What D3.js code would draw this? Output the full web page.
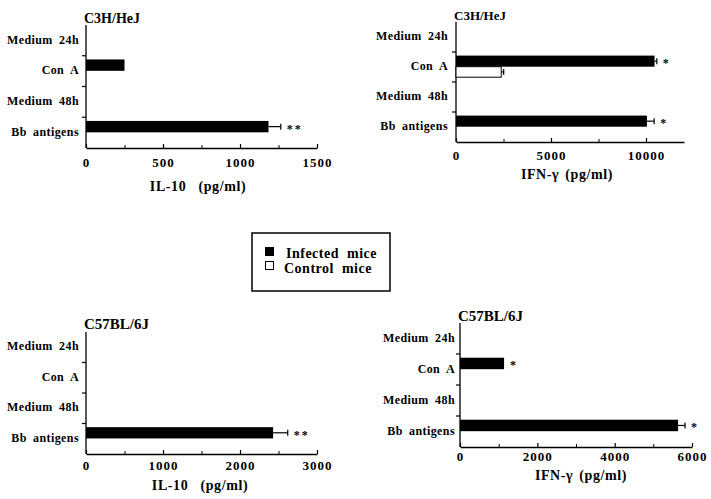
<!DOCTYPE html>
<html>
<head>
<meta charset="utf-8">
<script src="https://cdn.jsdelivr.net/npm/d3@7"></script>
<style>
  body { margin: 0; background: #fff; }
  text { font-family: "Liberation Serif", "Times New Roman", serif; font-weight: bold; fill: #000; }
</style>
</head>
<body>
<script>
// categories shared by all four panels
var categories = ["Medium 24h", "Con A", "Medium 48h", "Bb antigens"];

// C3H/HeJ IL-10
var il10C3H = [0, 250, 0, 1185];
var il10C3HErr = [0, 0, 0, 80];
var il10C3HStars = ["", "", "", "**"];

// C3H/HeJ IFN-gamma
var ifnC3H = [0, 10450, 0, 10050];
var ifnC3HErr = [0, 120, 0, 380];
var ifnC3HCtl = [0, 2380, 0, 0];
var ifnC3HCtlErr = [0, 130, 0, 0];
var ifnC3HStars = ["", "*", "", "*"];

// C57BL/6J IL-10
var il10B6 = [0, 0, 0, 2430];
var il10B6Err = [0, 0, 0, 190];
var il10B6Stars = ["", "", "", "**"];

// C57BL/6J IFN-gamma
var ifnB6 = [0, 1140, 0, 5640];
var ifnB6Err = [0, 0, 0, 180];
var ifnB6Stars = ["", "*", "", "*"];

var ticksIL10C3H = [0, 500, 1000, 1500];
var minorIL10C3H = [250, 750, 1250];
var ticksIFNC3H = [0, 5000, 10000];
var minorIFNC3H = [2500, 7500];
var ticksIL10B6 = [0, 1000, 2000, 3000];
var minorIL10B6 = [500, 1500, 2500];
var ticksIFNB6 = [0, 2000, 4000, 6000];
var minorIFNB6 = [1000, 3000, 5000];

var legendLabels = ["Infected mice", "Control mice"];

var width = 711;
var height = 499;

var svg = d3.select("body")
  .append("svg")
  .attr("width", width)
  .attr("height", height);

function drawPanel(p) {
  var x = d3.scaleLinear().domain(p.domain).range([p.x0, p.x1]);
  var y = d3.scaleBand().domain(categories).range([p.yTop, p.yBot]);
  var bw = y.bandwidth();
  var g = svg.append("g");

  g.append("text")
    .attr("x", p.x0 - 2)
    .attr("y", p.titleY)
    .attr("font-size", p.titleSize)
    .text(p.title);

  // y axis: line + ticks between the bands
  g.append("line")
    .attr("x1", p.x0).attr("x2", p.x0)
    .attr("y1", p.yTop).attr("y2", p.yBot)
    .attr("stroke", "#000").attr("stroke-width", 1.3);

  g.selectAll(".ytick")
    .data(categories.slice(1))
    .join("line")
      .attr("x1", p.x0 - 4).attr("x2", p.x0)
      .attr("y1", d => y(d)).attr("y2", d => y(d))
      .attr("stroke", "#000").attr("stroke-width", 1.2);

  g.selectAll(".ylab")
    .data(categories)
    .join("text")
      .attr("x", p.labelX)
      .attr("y", d => y(d) + bw / 2 - 1)
      .attr("dy", "0.35em")
      .attr("text-anchor", "end")
      .attr("font-size", 12)
      .attr("word-spacing", 3)
      .attr("letter-spacing", 0.4)
      .text(d => d);

  // x axis
  var ax = g.append("g")
    .attr("transform", "translate(0," + p.yBot + ")")
    .call(d3.axisBottom(x).tickValues(p.ticks).tickFormat(d3.format("d"))
      .tickSize(-4).tickSizeOuter(0).tickPadding(p.tickPad));
  ax.select(".domain").attr("stroke-width", 1.3);
  ax.selectAll(".tick line").attr("stroke-width", 1.2);
  ax.selectAll("text")
    .attr("font-size", 13)
    .attr("letter-spacing", 1)
    .attr("font-family", "Liberation Serif")
    .attr("font-weight", "bold");

  var mx = g.append("g")
    .attr("transform", "translate(0," + p.yBot + ")")
    .call(d3.axisBottom(x).tickValues(p.minor).tickSize(-3).tickSizeOuter(0).tickFormat(""));
  mx.select(".domain").remove();

  g.append("text")
    .attr("x", p.labelCx)
    .attr("y", p.labelCy)
    .attr("dy", "0.35em")
    .attr("text-anchor", "middle")
    .attr("font-size", 14)
    .attr("word-spacing", p.labelWs)
    .attr("letter-spacing", 0.6)
    .text(p.xLabel);

  var rows = categories.map((c, i) => ({
    cat: c,
    inf: p.inf[i], infErr: p.infErr[i],
    ctl: p.ctl ? p.ctl[i] : 0, ctlErr: p.ctlErr ? p.ctlErr[i] : 0,
    star: p.stars[i]
  }));

  var infY = d => y(d.cat) + bw * 0.12;
  var infH = bw * 0.37;
  var ctlY = d => y(d.cat) + bw * 0.49;
  var ctlH = bw * 0.35;

  // error bars (drawn first so bars cover the start)
  function errBars(data, val, err, yy, hh) {
    var sel = data.filter(d => val(d) > 0 && err(d) > 0);
    g.selectAll(null).data(sel).join("line")
      .attr("x1", d => x(val(d))).attr("x2", d => x(val(d) + err(d)))
      .attr("y1", d => yy(d) + hh / 2).attr("y2", d => yy(d) + hh / 2)
      .attr("stroke", "#000").attr("stroke-width", 1.2);
    g.selectAll(null).data(sel).join("line")
      .attr("x1", d => x(val(d) + err(d))).attr("x2", d => x(val(d) + err(d)))
      .attr("y1", d => yy(d) + hh / 2 - 3).attr("y2", d => yy(d) + hh / 2 + 3)
      .attr("stroke", "#000").attr("stroke-width", 1.2);
  }
  errBars(rows, d => d.inf, d => d.infErr, infY, infH);
  errBars(rows, d => d.ctl, d => d.ctlErr, ctlY, ctlH);

  g.selectAll(".inf")
    .data(rows.filter(d => d.inf > 0))
    .join("rect")
      .attr("x", x(0))
      .attr("y", infY)
      .attr("width", d => x(d.inf) - x(0))
      .attr("height", infH)
      .attr("fill", "#000");

  g.selectAll(".ctl")
    .data(rows.filter(d => d.ctl > 0))
    .join("rect")
      .attr("x", x(0))
      .attr("y", ctlY)
      .attr("width", d => x(d.ctl) - x(0))
      .attr("height", ctlH)
      .attr("fill", "#fff")
      .attr("stroke", "#000")
      .attr("stroke-width", 1);

  g.selectAll(".star")
    .data(rows.filter(d => d.star !== ""))
    .join("text")
      .attr("x", d => x(d.inf + d.infErr) + 6)
      .attr("y", d => infY(d) + infH / 2 + 6)
      .attr("font-size", 12)
      .attr("letter-spacing", 2)
      .text(d => d.star);
}

drawPanel({
  title: "C3H/HeJ", titleY: 23, titleSize: 14,
  x0: 86, x1: 317, domain: [0, 1500], yTop: 25, yBot: 148,
  ticks: ticksIL10C3H, minor: minorIL10C3H, tickPad: 10,
  labelX: 79, xLabel: "IL-10 (pg/ml)", labelCx: 198, labelCy: 186, labelWs: 8,
  inf: il10C3H, infErr: il10C3HErr, stars: il10C3HStars
});

drawPanel({
  title: "C3H/HeJ", titleY: 20, titleSize: 13,
  x0: 456, x1: 684, domain: [0, 12000], yTop: 22, yBot: 142,
  ticks: ticksIFNC3H, minor: minorIFNC3H, tickPad: 9,
  labelX: 448, xLabel: "IFN-γ (pg/ml)", labelCx: 567, labelCy: 174, labelWs: 2,
  inf: ifnC3H, infErr: ifnC3HErr, ctl: ifnC3HCtl, ctlErr: ifnC3HCtlErr, stars: ifnC3HStars
});

drawPanel({
  title: "C57BL/6J", titleY: 329, titleSize: 15,
  x0: 86, x1: 317, domain: [0, 3000], yTop: 332, yBot: 454,
  ticks: ticksIL10B6, minor: minorIL10B6, tickPad: 7,
  labelX: 79, xLabel: "IL-10 (pg/ml)", labelCx: 200, labelCy: 485, labelWs: 8,
  inf: il10B6, infErr: il10B6Err, stars: il10B6Stars
});

drawPanel({
  title: "C57BL/6J", titleY: 321, titleSize: 15,
  x0: 460, x1: 692, domain: [0, 6000], yTop: 323, yBot: 447,
  ticks: ticksIFNB6, minor: minorIFNB6, tickPad: 5,
  labelX: 455, xLabel: "IFN-γ (pg/ml)", labelCx: 581, labelCy: 475, labelWs: 2,
  inf: ifnB6, infErr: ifnB6Err, stars: ifnB6Stars
});

// legend
var lg = svg.append("g");
lg.append("rect")
  .attr("x", 252).attr("y", 233)
  .attr("width", 138).attr("height", 58)
  .attr("fill", "none").attr("stroke", "#000").attr("stroke-width", 1.5);

lg.selectAll(".sw")
  .data(legendLabels)
  .join("rect")
    .attr("x", 265.5)
    .attr("y", (d, i) => 247.5 + i * 14)
    .attr("width", 8).attr("height", 8)
    .attr("fill", (d, i) => i == 0 ? "#000" : "#fff")
    .attr("stroke", "#000").attr("stroke-width", 1);

lg.selectAll(".lt")
  .data(legendLabels)
  .join("text")
    .attr("x", (d, i) => i == 0 ? 286 : 284)
    .attr("y", (d, i) => 253 + i * 15)
    .attr("dy", "0.35em")
    .attr("font-size", 14)
    .attr("word-spacing", 4)
    .attr("letter-spacing", 0.5)
    .text(d => d);
</script>
</body>
</html>
